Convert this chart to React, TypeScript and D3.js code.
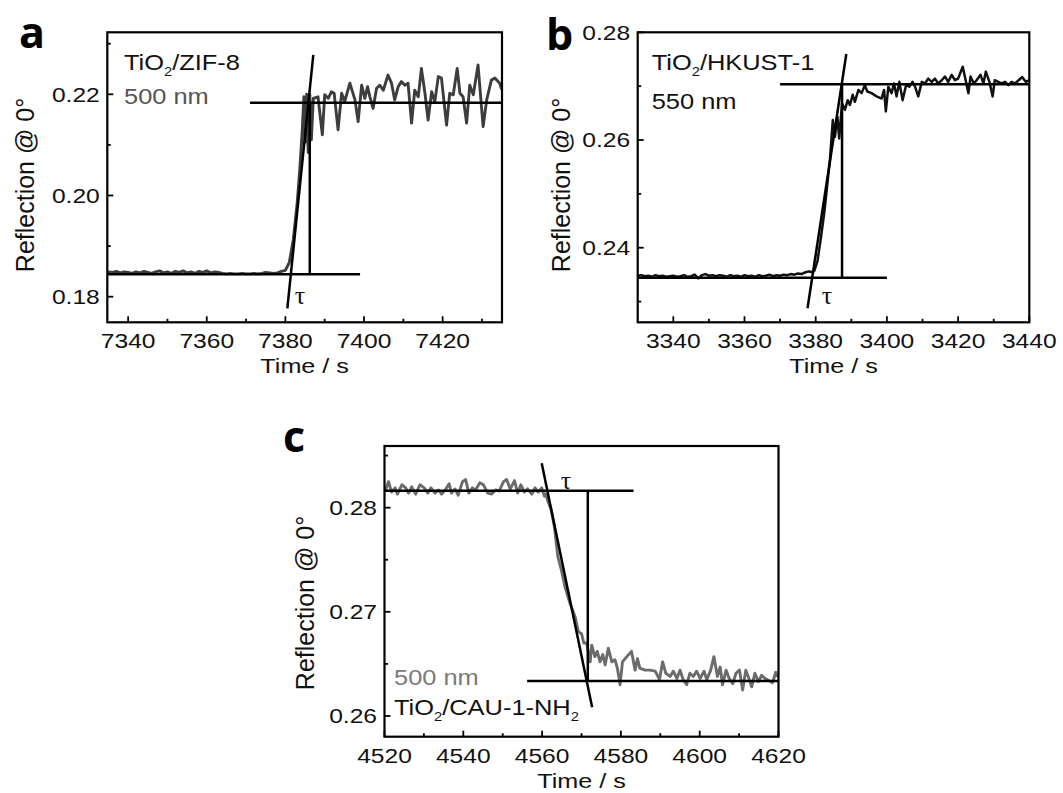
import React from 'react';
import * as d3 from 'd3';

type Pt = [number, number];

// ---------- Panel a: TiO2/ZIF-8 (500 nm) ----------
const aSeries: Pt[] = [
  [7334.7, 0.1849], [7335, 0.1849], [7336, 0.1848], [7337, 0.1850], [7338, 0.1847], [7339, 0.1849], [7340, 0.1848],
  [7341, 0.1846], [7342, 0.1849], [7343, 0.1847], [7344, 0.1850], [7345, 0.1848], [7346, 0.1846],
  [7347, 0.1849], [7348, 0.1851], [7349, 0.1847], [7350, 0.1849], [7351, 0.1846], [7352, 0.1850],
  [7353, 0.1848], [7354, 0.1851], [7355, 0.1847], [7356, 0.1849], [7357, 0.1846], [7358, 0.1850],
  [7359, 0.1848], [7360, 0.1851], [7361, 0.1847], [7362, 0.1849], [7363, 0.1848], [7364, 0.1846],
  [7365, 0.1845], [7366, 0.1846], [7367, 0.1845], [7368, 0.1845], [7369, 0.1846], [7370, 0.1845],
  [7371, 0.1845], [7372, 0.1846], [7373, 0.1845], [7374, 0.1846], [7375, 0.1848], [7376, 0.1847],
  [7377, 0.1846], [7378, 0.1847], [7379, 0.1850], [7380, 0.1852], [7381, 0.1868], [7382, 0.1912],
  [7383, 0.1985], [7383.7, 0.2056], [7384.3, 0.2130], [7384.7, 0.2195], [7385.0, 0.2105],
  [7385.4, 0.2200], [7385.8, 0.2085], [7386.2, 0.2200], [7386.6, 0.2110], [7387.1, 0.2192],
  [7388.3, 0.2195], [7389.4, 0.2120], [7390.0, 0.2199], [7390.9, 0.2192], [7391.7, 0.2205],
  [7392.4, 0.2202], [7393.4, 0.2130], [7394.3, 0.2202], [7395.1, 0.2186], [7396.4, 0.2222],
  [7397.7, 0.2189], [7398.5, 0.2146], [7399.4, 0.2218], [7400.2, 0.2192], [7400.9, 0.2215],
  [7401.5, 0.2195], [7402.3, 0.2172], [7403.2, 0.2212], [7404.0, 0.2218], [7404.9, 0.2208],
  [7406.1, 0.2238], [7407.0, 0.2222], [7407.8, 0.2189], [7408.7, 0.2215], [7409.5, 0.2225],
  [7410.4, 0.2218], [7411.2, 0.2222], [7412.1, 0.2143], [7412.9, 0.2208], [7413.8, 0.2195],
  [7414.6, 0.2251], [7415.5, 0.2202], [7416.3, 0.2149], [7417.2, 0.2205], [7418.0, 0.2185],
  [7418.9, 0.2235], [7419.7, 0.2232], [7421.0, 0.2139], [7421.8, 0.2202], [7422.7, 0.2199],
  [7423.7, 0.2251], [7424.4, 0.2202], [7425.2, 0.2195], [7426.1, 0.2143], [7426.9, 0.2218],
  [7427.8, 0.2199], [7429.0, 0.2258], [7430.3, 0.2136], [7431.2, 0.2189], [7432.4, 0.2228],
  [7433.3, 0.2232], [7434.5, 0.2222], [7435.0, 0.2210],
];
const aGuides: Pt[][] = [
  [[7334.7, 0.18443], [7399, 0.18443]],
  [[7371, 0.21834], [7435, 0.21834]],
  [[7386.2, 0.18443], [7386.2, 0.21834]],
  [[7380.5, 0.1777], [7387.1, 0.2278]],
];
const aXTicks = [7340, 7360, 7380, 7400, 7420];
const aXMinor = [7350, 7370, 7390, 7410, 7430];
const aYTicks = [0.18, 0.2, 0.22];
const aYMinor = [0.19, 0.21, 0.23];

// ---------- Panel b: TiO2/HKUST-1 (550 nm) ----------
const bSeries: Pt[] = [
  [3330, 0.2348], [3331, 0.2349], [3332, 0.2347], [3333, 0.2348], [3334, 0.2346], [3335, 0.2349],
  [3336, 0.2347], [3337, 0.2348], [3338, 0.2346], [3339, 0.2347], [3340, 0.2348], [3341, 0.2346],
  [3342, 0.2347], [3343, 0.2349], [3344, 0.2346], [3345, 0.2347], [3346, 0.2350], [3347, 0.2343],
  [3348, 0.2349], [3349, 0.2351], [3350, 0.2348], [3351, 0.2349], [3352, 0.2347], [3353, 0.2349],
  [3354, 0.2348], [3355, 0.2346], [3356, 0.2349], [3357, 0.2347], [3358, 0.2348], [3359, 0.2346],
  [3360, 0.2349], [3361, 0.2347], [3362, 0.2348], [3363, 0.2346], [3364, 0.2349], [3365, 0.2347],
  [3366, 0.2348], [3367, 0.2350], [3368, 0.2347], [3369, 0.2349], [3370, 0.2348], [3371, 0.2350],
  [3372, 0.2349], [3373, 0.2351], [3374, 0.2350], [3375, 0.2352], [3376, 0.2351], [3377, 0.2354],
  [3378, 0.2356], [3379, 0.2355], [3379.6, 0.2357], [3380.5, 0.2375], [3381.5, 0.2420],
  [3382.5, 0.2470], [3383.3, 0.2520], [3384.0, 0.2563], [3384.8, 0.2637], [3385.4, 0.2606],
  [3386.1, 0.2643], [3386.6, 0.2603], [3387.4, 0.2668], [3388.2, 0.2656], [3389.0, 0.2674],
  [3389.6, 0.2665], [3390.4, 0.2684], [3391.0, 0.2671], [3392.0, 0.2693], [3392.9, 0.2687],
  [3393.8, 0.2702], [3394.5, 0.2690], [3395.7, 0.2687], [3397.1, 0.2681], [3398.5, 0.2677],
  [3399.2, 0.2693], [3399.7, 0.2653], [3400.4, 0.2699], [3401.3, 0.2687], [3402.0, 0.2705],
  [3402.7, 0.2681], [3403.5, 0.2708], [3404.4, 0.2674], [3405.4, 0.2702], [3406.3, 0.2699],
  [3407.2, 0.2708], [3407.9, 0.2699], [3408.8, 0.2681], [3409.8, 0.2708], [3410.7, 0.2705],
  [3411.6, 0.2714], [3412.6, 0.2708], [3413.5, 0.2714], [3414.4, 0.2705], [3415.4, 0.2711],
  [3416.3, 0.2718], [3417.2, 0.2708], [3418.2, 0.2721], [3419.1, 0.2711], [3420.0, 0.2714],
  [3421.3, 0.2736], [3421.9, 0.2718], [3422.9, 0.2687], [3423.5, 0.2718], [3424.4, 0.2705],
  [3425.2, 0.2711], [3426.3, 0.2721], [3427.1, 0.2705], [3427.8, 0.2727], [3428.8, 0.2708],
  [3429.7, 0.2681], [3430.3, 0.2711], [3431.3, 0.2708], [3432.2, 0.2705], [3433.2, 0.2708],
  [3434.1, 0.2702], [3435.0, 0.2708], [3436.0, 0.2705], [3437.0, 0.2711], [3438.0, 0.2717],
  [3439.0, 0.2708], [3440.0, 0.2711],
];
const bGuides: Pt[][] = [
  [[3330, 0.23443], [3400, 0.23443]],
  [[3370, 0.27034], [3440, 0.27034]],
  [[3387.4, 0.23443], [3387.4, 0.27034]],
  [[3377.7, 0.22875], [3388.6, 0.27597]],
];
const bXTicks = [3340, 3360, 3380, 3400, 3420, 3440];
const bXMinor = [3350, 3370, 3390, 3410, 3430];
const bYTicks = [0.24, 0.26, 0.28];
const bYMinor = [0.23, 0.25, 0.27];

// ---------- Panel c: TiO2/CAU-1-NH2 (500 nm) ----------
const cSeries: Pt[] = [
  [4520.0, 0.2818], [4520.3, 0.2817], [4521.0, 0.2825], [4521.8, 0.2815], [4522.7, 0.2819], [4523.3, 0.2813],
  [4524.4, 0.2822], [4525.4, 0.2819], [4526.1, 0.2814], [4526.9, 0.2820], [4527.9, 0.2813],
  [4529.0, 0.2822], [4530.1, 0.2819], [4531.0, 0.2814], [4531.8, 0.2819], [4532.8, 0.2814],
  [4533.7, 0.2817], [4534.5, 0.2813], [4535.4, 0.2817], [4536.4, 0.2823], [4537.0, 0.2814],
  [4537.9, 0.2818], [4538.7, 0.2812], [4539.8, 0.2825], [4540.6, 0.2827], [4541.4, 0.2814],
  [4542.3, 0.2819], [4543.1, 0.2817], [4544.2, 0.2824], [4545.1, 0.2822], [4546.2, 0.2814],
  [4547.2, 0.2813], [4548.2, 0.2817], [4549.1, 0.2816], [4550.2, 0.2825], [4551.0, 0.2827],
  [4551.9, 0.2818], [4553.0, 0.2826], [4553.8, 0.2814], [4554.6, 0.2822], [4555.5, 0.2815],
  [4556.3, 0.2818], [4557.4, 0.2813], [4558.2, 0.2819], [4559.0, 0.2815], [4559.9, 0.2819],
  [4560.6, 0.2811], [4560.9, 0.2813], [4561.4, 0.2807], [4562.3, 0.2798], [4563.1, 0.2782],
  [4564.0, 0.2753], [4564.9, 0.2740], [4565.8, 0.2724], [4567.1, 0.2708], [4568.4, 0.2695],
  [4569.2, 0.2681], [4570.0, 0.2679], [4570.6, 0.2670], [4571.3, 0.2670], [4572.2, 0.2652],
  [4572.6, 0.2668], [4573.4, 0.2657], [4574.0, 0.2662], [4574.7, 0.2652], [4575.4, 0.2659],
  [4576.0, 0.2649], [4576.8, 0.2665], [4577.7, 0.2652], [4578.5, 0.2654], [4579.1, 0.2646],
  [4579.8, 0.2630], [4580.4, 0.2652], [4581.5, 0.2657], [4582.7, 0.2662], [4583.6, 0.2644],
  [4584.2, 0.2655], [4584.8, 0.2646], [4586.1, 0.2644], [4587.4, 0.2644], [4588.7, 0.2643],
  [4589.8, 0.2635], [4590.6, 0.2652], [4591.4, 0.2641], [4592.5, 0.2638], [4593.3, 0.2643],
  [4594.2, 0.2636], [4595.0, 0.2644], [4595.8, 0.2635], [4596.7, 0.2630], [4597.5, 0.2641],
  [4598.4, 0.2638], [4599.2, 0.2643], [4600.1, 0.2636], [4601.1, 0.2643], [4601.8, 0.2635],
  [4602.8, 0.2644], [4603.6, 0.2657], [4604.5, 0.2638], [4605.2, 0.2647], [4605.8, 0.2630],
  [4606.7, 0.2644], [4607.5, 0.2636], [4608.4, 0.2631], [4609.2, 0.2641], [4610.1, 0.2644],
  [4610.9, 0.2625], [4611.7, 0.2644], [4612.3, 0.2638], [4613.2, 0.2628], [4614.0, 0.2641],
  [4614.9, 0.2633], [4615.7, 0.2639], [4616.6, 0.2636], [4617.5, 0.2634], [4618.5, 0.2632],
  [4619.3, 0.2642], [4620.0, 0.2637],
];
const cGuides: Pt[][] = [
  [[4520, 0.28163], [4583.2, 0.28163]],
  [[4556.2, 0.26336], [4620, 0.26336]],
  [[4571.6, 0.28163], [4571.6, 0.26336]],
  [[4559.9, 0.28426], [4572.7, 0.26083]],
];
const cXTicks = [4520, 4540, 4560, 4580, 4600, 4620];
const cXMinor = [4530, 4550, 4570, 4590, 4610];
const cYTicks = [0.26, 0.27, 0.28];
const cYMinor = [0.265, 0.275, 0.285];

const SANS = '"Liberation Sans", Arial, sans-serif';
const SERIF = '"Liberation Serif", "DejaVu Serif", serif';

type Label = { text: string; sub?: string; tail?: string; sub2?: string; x: number; y: number; color: string };

type PanelCfg = {
  letter: string;
  letterPos: [number, number];
  box: { x0: number; y0: number; x1: number; y1: number };
  xDomain: [number, number];
  yDomain: [number, number];
  series: Pt[];
  seriesColor: string;
  seriesWidth: number;
  guides: Pt[][];
  xTicks: number[];
  xMinor: number[];
  yTicks: number[];
  yMinor: number[];
  tauPos: [number, number];
  yLabelPos: [number, number];
  labels: Label[];
};

const panels: PanelCfg[] = [
  {
    letter: 'a', letterPos: [19, 48],
    box: { x0: 107.3, y0: 32.3, x1: 502, y1: 322.3 },
    xDomain: [7334.7, 7435.1], yDomain: [0.17494, 0.23225],
    series: aSeries, seriesColor: '#3d3d3d', seriesWidth: 2.9, guides: aGuides,
    xTicks: aXTicks, xMinor: aXMinor, yTicks: aYTicks, yMinor: aYMinor,
    tauPos: [300, 304], yLabelPos: [33.5, 185],
    labels: [
      { text: 'TiO', sub: '2', tail: '/ZIF-8', x: 124, y: 70, color: '#111' },
      { text: '500 nm', x: 124, y: 104, color: '#555' },
    ],
  },
  {
    letter: 'b', letterPos: [546, 50],
    box: { x0: 637.7, y0: 32.3, x1: 1029.3, y1: 322.3 },
    xDomain: [3330, 3440], yDomain: [0.22615, 0.28],
    series: bSeries, seriesColor: '#111', seriesWidth: 2.5, guides: bGuides,
    xTicks: bXTicks, xMinor: bXMinor, yTicks: bYTicks, yMinor: bYMinor,
    tauPos: [827, 304], yLabelPos: [570, 185],
    labels: [
      { text: 'TiO', sub: '2', tail: '/HKUST-1', x: 651.7, y: 70, color: '#111' },
      { text: '550 nm', x: 651.7, y: 109, color: '#111' },
    ],
  },
  {
    letter: 'c', letterPos: [283, 452],
    box: { x0: 384.5, y0: 446, x1: 778.5, y1: 736.7 },
    xDomain: [4520, 4620], yDomain: [0.25801, 0.28592],
    series: cSeries, seriesColor: '#6b6b6b', seriesWidth: 2.9, guides: cGuides,
    xTicks: cXTicks, xMinor: cXMinor, yTicks: cYTicks, yMinor: cYMinor,
    tauPos: [566, 489], yLabelPos: [313.5, 603],
    labels: [
      { text: '500 nm', x: 394, y: 685, color: '#7a7a7a' },
      { text: 'TiO', sub: '2', tail: '/CAU-1-NH', sub2: '2', x: 394, y: 715, color: '#111' },
    ],
  },
];

const fmt = d3.format('.2f');

function Panel({ p, idx }: { p: PanelCfg; idx: number }) {
  const { box } = p;
  const x = d3.scaleLinear().domain(p.xDomain).range([box.x0, box.x1]);
  const y = d3.scaleLinear().domain(p.yDomain).range([box.y1, box.y0]);
  const line = d3.line<Pt>().x((d) => x(d[0])).y((d) => y(d[1]));
  const clipId = `clip-${idx}`;
  const major = 6;
  const minor = 3.5;
  const tickSX = 1.2;
  return (
    <g>
      <defs>
        <clipPath id={clipId}>
          <rect x={box.x0} y={box.y0} width={box.x1 - box.x0} height={box.y1 - box.y0} />
        </clipPath>
      </defs>
      <text x={p.letterPos[0]} y={p.letterPos[1]} fontFamily='"Open Sans", "DejaVu Sans", sans-serif'
        fontWeight={700} fontSize={43} fill="#000">{p.letter}</text>

      <g clipPath={`url(#${clipId})`}>
        <path d={line(p.series) || ''} fill="none" stroke={p.seriesColor} strokeWidth={p.seriesWidth}
          strokeLinejoin="round" />
        {p.guides.map((g, i) => (
          <path key={i} d={line(g) || ''} fill="none" stroke="#000" strokeWidth={2.5} />
        ))}
      </g>

      {p.xTicks.map((t) => (
        <line key={'xt' + t} x1={x(t)} x2={x(t)} y1={box.y1} y2={box.y1 - major} stroke="#000" strokeWidth={1.8} />
      ))}
      {p.xMinor.map((t) => (
        <line key={'xm' + t} x1={x(t)} x2={x(t)} y1={box.y1} y2={box.y1 - minor} stroke="#000" strokeWidth={1.8} />
      ))}
      {p.yTicks.map((t) => (
        <line key={'yt' + t} x1={box.x0} x2={box.x0 + major} y1={y(t)} y2={y(t)} stroke="#000" strokeWidth={1.8} />
      ))}
      {p.yMinor.map((t) => (
        <line key={'ym' + t} x1={box.x0} x2={box.x0 + minor} y1={y(t)} y2={y(t)} stroke="#000" strokeWidth={1.8} />
      ))}

      <rect x={box.x0} y={box.y0} width={box.x1 - box.x0} height={box.y1 - box.y0} fill="none"
        stroke="#000" strokeWidth={2.2} />

      {p.xTicks.map((t) => (
        <text key={'xl' + t} transform={`translate(${x(t)},${box.y1 + 26}) scale(${tickSX},1)`}
          textAnchor="middle" fontFamily={SANS} fontSize={20.5} fill="#111">{t}</text>
      ))}
      {p.yTicks.map((t) => (
        <text key={'yl' + t} transform={`translate(${box.x0 - 7.5},${y(t) + 7.3}) scale(${tickSX},1)`}
          textAnchor="end" fontFamily={SANS} fontSize={20.5} fill="#111">{fmt(t)}</text>
      ))}

      <text transform={`translate(${(box.x0 + box.x1) / 2},${box.y1 + 51}) scale(1.2,1)`} textAnchor="middle"
        fontFamily={SANS} fontSize={21} fill="#111">Time / s</text>
      <text transform={`translate(${p.yLabelPos[0]},${p.yLabelPos[1]}) rotate(-90)`} textAnchor="middle"
        fontFamily={SANS} fontSize={25} fill="#111">Reflection @ 0°</text>

      <text x={p.tauPos[0]} y={p.tauPos[1]} textAnchor="middle" fontFamily={SERIF} fontSize={26} fill="#111">τ</text>

      {p.labels.map((l, i) => (
        <text key={i} transform={`translate(${l.x},${l.y}) scale(1.13,1)`} fontFamily={SANS} fontSize={22.5} fill={l.color}>
          {l.text}
          {l.sub && <tspan fontSize={13} dy={6}>{l.sub}</tspan>}
          {l.tail && <tspan dy={-6}>{l.tail}</tspan>}
          {l.sub2 && <tspan fontSize={13} dy={6}>{l.sub2}</tspan>}
        </text>
      ))}
    </g>
  );
}

export default function App() {
  return (
    <svg width={1063} height={793} viewBox="0 0 1063 793"
      style={{ position: 'absolute', left: 0, top: 0, background: '#fff' }}>
      <rect x={0} y={0} width={1063} height={793} fill="#fff" />
      {panels.map((p, i) => (
        <Panel key={i} p={p} idx={i} />
      ))}
    </svg>
  );
}
